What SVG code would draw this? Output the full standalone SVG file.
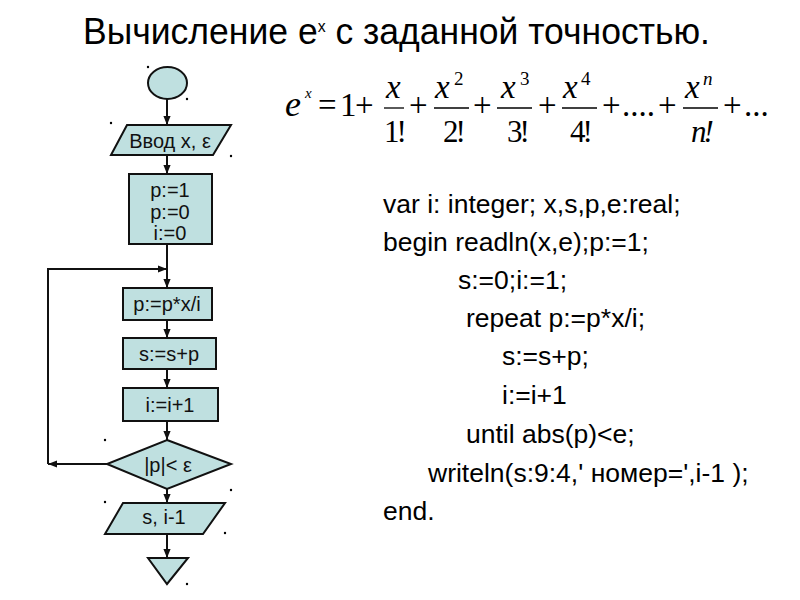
<svg xmlns="http://www.w3.org/2000/svg" width="800" height="600" viewBox="0 0 800 600">
<style>
.shape{fill:#bfe0e0;stroke:#111;stroke-width:2}
.conn{fill:none;stroke:#111;stroke-width:2}
.lbl{font-family:"Liberation Sans",Arial,sans-serif;font-size:20px;fill:#111;text-anchor:middle}
.code{font-family:"Liberation Sans",Arial,sans-serif;font-size:26.5px;fill:#000}
.title{font-family:"Liberation Sans",Arial,sans-serif;font-size:36px;fill:#000}
.m{font-family:"Liberation Serif","Times New Roman",serif;font-size:33px;fill:#000}
.mi{font-family:"Liberation Serif","Times New Roman",serif;font-size:33px;font-style:italic;fill:#000}
.ms{font-family:"Liberation Serif","Times New Roman",serif;font-size:19px;fill:#000}
.msi{font-family:"Liberation Serif","Times New Roman",serif;font-size:19px;font-style:italic;fill:#000}
.md{font-family:"Liberation Serif","Times New Roman",serif;font-size:31px;fill:#000;text-anchor:middle;letter-spacing:-3px}
.fl{stroke:#000;stroke-width:1.3}
.dot{fill:#000}
</style>
<defs>
<marker id="ah" viewBox="0 0 10 10" refX="10" refY="5" markerWidth="9" markerHeight="9" markerUnits="userSpaceOnUse" orient="auto">
<path d="M0,1 L10,5 L0,9 z" fill="#111"/>
</marker>
</defs>
<rect width="800" height="600" fill="#fff"/>

<g id="title">
<text class="title" x="83" y="44" textLength="627" lengthAdjust="spacingAndGlyphs">Вычисление e<tspan dy="-12" style="font-size:16px">x</tspan><tspan dy="12"> с заданной точностью.</tspan></text>
</g>

<g id="formula">
<text class="mi" x="285" y="116" style="font-size:36px">e</text>
<text class="msi" x="305" y="98" style="font-size:15px">x</text>
<text class="m" x="318" y="116">=</text>
<text class="m" x="340" y="116">1</text>
<text class="m" x="355" y="116">+</text>
<text class="mi" x="386" y="98">x</text>
<line class="fl" x1="384" y1="108" x2="404" y2="108"/>
<text class="md" x="394" y="142">1!</text>
<text class="m" x="409" y="116">+</text>
<text class="mi" x="435" y="98">x</text>
<text class="ms" x="454" y="85">2</text>
<line class="fl" x1="434" y1="108" x2="469" y2="108"/>
<text class="md" x="453" y="142">2!</text>
<text class="m" x="473" y="116">+</text>
<text class="mi" x="501" y="98">x</text>
<text class="ms" x="520" y="85">3</text>
<line class="fl" x1="497" y1="108" x2="532" y2="108"/>
<text class="md" x="517" y="142">3!</text>
<text class="m" x="538" y="116">+</text>
<text class="mi" x="563" y="98">x</text>
<text class="ms" x="581" y="85">4</text>
<line class="fl" x1="562" y1="108" x2="597" y2="108"/>
<text class="md" x="580" y="142">4!</text>
<text class="m" x="602" y="116">+</text>
<text class="m" x="622" y="116">....</text>
<text class="m" x="658" y="116">+</text>
<text class="mi" x="685" y="98">x</text>
<text class="msi" x="703" y="85">n</text>
<line class="fl" x1="683" y1="108" x2="718" y2="108"/>
<text class="md" x="701" y="142" style="font-style:italic">n!</text>
<text class="m" x="723" y="116">+</text>
<text class="m" x="744" y="116">...</text>
</g>

<g id="code">
<text class="code" x="383" y="213">var i: integer; x,s,p,e:real;</text>
<text class="code" x="383" y="251">begin readln(x,e);p:=1;</text>
<text class="code" x="458" y="289">s:=0;i:=1;</text>
<text class="code" x="466" y="327">repeat  p:=p*x/i;</text>
<text class="code" x="502" y="365">s:=s+p;</text>
<text class="code" x="502" y="404">i:=i+1</text>
<text class="code" x="466" y="443">until abs(p)&lt;e;</text>
<text class="code" x="428" y="482">writeln(s:9:4,' номер=',i-1 );</text>
<text class="code" x="383" y="520">end.</text>
</g>

<g id="connectors">
<line class="conn" x1="167" y1="99" x2="167" y2="125" marker-end="url(#ah)"/>
<line class="conn" x1="167" y1="155" x2="167" y2="174" marker-end="url(#ah)"/>
<line class="conn" x1="167" y1="244" x2="167" y2="288" marker-end="url(#ah)"/>
<line class="conn" x1="167" y1="320" x2="167" y2="338" marker-end="url(#ah)"/>
<line class="conn" x1="167" y1="369" x2="167" y2="388" marker-end="url(#ah)"/>
<line class="conn" x1="167" y1="421" x2="167" y2="440" marker-end="url(#ah)"/>
<path class="conn" d="M107,464 H48" marker-end="url(#ah)"/>
<path class="conn" d="M48,464 V269 H167" marker-end="url(#ah)"/>
<line class="conn" x1="167" y1="489" x2="167" y2="503" marker-end="url(#ah)"/>
<line class="conn" x1="167" y1="534" x2="167" y2="558" marker-end="url(#ah)"/>
</g>

<g id="start">
<ellipse class="shape" cx="167.5" cy="83" rx="19.5" ry="16"/>
</g>
<g id="input">
<polygon class="shape" points="127,125 231,125 213,155 111,155"/>
<text class="lbl" x="170" y="148">Ввод x, ε</text>
</g>
<g id="init">
<rect class="shape" x="129" y="174" width="83" height="70"/>
<text class="lbl" x="170" y="197">p:=1</text>
<text class="lbl" x="170" y="219">p:=0</text>
<text class="lbl" x="170" y="240">i:=0</text>
</g>
<g id="calc-p">
<rect class="shape" x="123" y="288" width="89" height="32"/>
<text class="lbl" x="167" y="311">p:=p*x/i</text>
</g>
<g id="calc-s">
<rect class="shape" x="123" y="338" width="93" height="31"/>
<text class="lbl" x="169" y="361">s:=s+p</text>
</g>
<g id="calc-i">
<rect class="shape" x="123" y="388" width="95" height="33"/>
<text class="lbl" x="170" y="412">i:=i+1</text>
</g>
<g id="cond">
<polygon class="shape" points="167,440 231,464 167,489 107,464"/>
<text class="lbl" x="168" y="472">|p|&lt; ε</text>
</g>
<g id="output">
<polygon class="shape" points="123,503 225,503 203,534 105,534"/>
<text class="lbl" x="164" y="524">s, i-1</text>
</g>
<g id="end">
<polygon class="shape" points="148,558 188,558 167,584"/>
</g>

<g id="handles">
<circle class="dot" cx="148" cy="67" r="1.2"/>
<circle class="dot" cx="187" cy="99" r="1.2"/>
<circle class="dot" cx="111" cy="123" r="1.2"/>
<circle class="dot" cx="231" cy="156" r="1.2"/>
<circle class="dot" cx="105" cy="440" r="1.2"/>
<circle class="dot" cx="231" cy="490" r="1.2"/>
<circle class="dot" cx="105" cy="502" r="1.2"/>
<circle class="dot" cx="225" cy="533" r="1.2"/>
<circle class="dot" cx="187" cy="584" r="1.2"/>
</g>
</svg>
